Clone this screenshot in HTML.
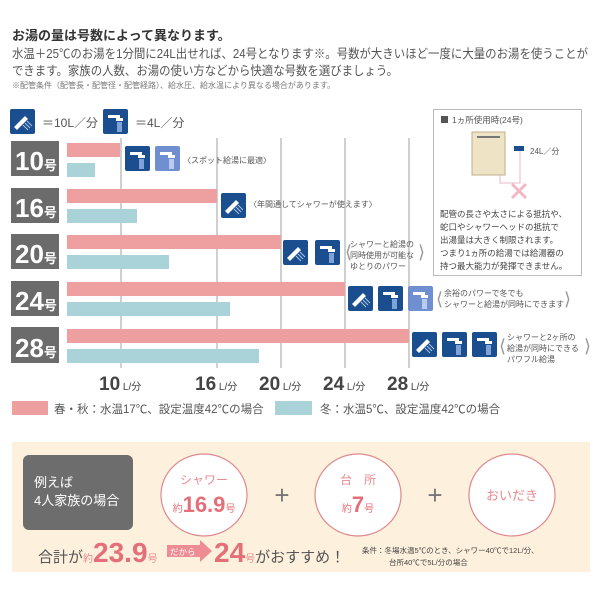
<!DOCTYPE html>
<html><head><meta charset="utf-8">
<style>
html,body{margin:0;padding:0;background:#fff;}
svg{display:block;font-family:"Liberation Sans","Noto Sans CJK JP",sans-serif;}
</style></head>
<body>
<svg width="600" height="600" viewBox="0 0 600 600" xmlns="http://www.w3.org/2000/svg">
<defs>
  <g id="sh">
    <rect width="25" height="25" rx="2" fill="#1b4e8f"/>
    <path d="M4 18 L15 7 L18 10 L7 21 Z" fill="#fff"/>
    <path d="M17 12 L22 17 M15 14 L20 19 M13 16 L18 21" stroke="#a9c4e6" stroke-width="1"/>
  </g>
  <g id="tp">
    <rect width="25" height="25" rx="2" fill="#1b4e8f"/>
    <path d="M5 6 H17 V9 H20 V12 H13 V9 H5 Z" fill="#fff"/>
    <rect x="14" y="13" width="5" height="10" fill="#7fa3d6"/>
  </g>
  <g id="tpl">
    <rect width="25" height="25" rx="2" fill="#6f8fd0"/>
    <path d="M5 6 H17 V9 H20 V12 H13 V9 H5 Z" fill="#fff"/>
    <rect x="14" y="13" width="5" height="10" fill="#b9cbee"/>
  </g>
</defs>

<text x="12" y="40" font-size="13" font-weight="bold" fill="#333">お湯の量は号数によって異なります。</text>
<text x="12" y="58" font-size="12.5" fill="#555" textLength="576" lengthAdjust="spacingAndGlyphs">水温＋25℃のお湯を1分間に24L出せれば、24号となります※。号数が大きいほど一度に大量のお湯を使うことが</text>
<text x="12" y="75" font-size="12.5" fill="#555" textLength="386" lengthAdjust="spacingAndGlyphs">できます。家族の人数、お湯の使い方などから快適な号数を選びましょう。</text>
<text x="12" y="88" font-size="8" fill="#777">※配管条件（配管長・配管径・配管経路）、給水圧、給水温により異なる場合があります。</text>

<use href="#sh" x="10" y="109"/>
<text x="42" y="127" font-size="12" fill="#555">＝10L／分</text>
<use href="#tp" x="103" y="109"/>
<text x="135" y="127" font-size="12" fill="#555">＝4L／分</text>

<g stroke="#888" stroke-width="0.8">
  <line x1="121" y1="138" x2="121" y2="368"/>
  <line x1="217" y1="138" x2="217" y2="368"/>
  <line x1="281" y1="138" x2="281" y2="368"/>
  <line x1="345" y1="138" x2="345" y2="368"/>
  <line x1="409" y1="138" x2="409" y2="368"/>
</g>

<g font-weight="bold" fill="#fff">
  <rect x="11" y="141" width="48" height="35" fill="#6b6b6b"/>
  <text x="15" y="170" font-size="26">10<tspan font-size="13">号</tspan></text>
  <rect x="11" y="188" width="48" height="35" fill="#6b6b6b"/>
  <text x="15" y="217" font-size="26">16<tspan font-size="13">号</tspan></text>
  <rect x="11" y="234" width="48" height="35" fill="#6b6b6b"/>
  <text x="15" y="263" font-size="26">20<tspan font-size="13">号</tspan></text>
  <rect x="11" y="281" width="48" height="35" fill="#6b6b6b"/>
  <text x="15" y="310" font-size="26">24<tspan font-size="13">号</tspan></text>
  <rect x="11" y="327" width="48" height="36" fill="#6b6b6b"/>
  <text x="15" y="357" font-size="26">28<tspan font-size="13">号</tspan></text>
</g>
<g fill="#ee9fa0">
  <rect x="67" y="143" width="53" height="14"/>
  <rect x="67" y="189" width="150" height="14"/>
  <rect x="67" y="235" width="214" height="14"/>
  <rect x="67" y="282" width="278" height="14"/>
  <rect x="67" y="329" width="342" height="14"/>
</g>
<g fill="#a9d3d9">
  <rect x="67" y="163" width="28" height="14"/>
  <rect x="67" y="209" width="70" height="14"/>
  <rect x="67" y="255" width="102" height="14"/>
  <rect x="67" y="302" width="163" height="14"/>
  <rect x="67" y="349" width="192" height="14"/>
</g>

<use href="#tp" x="125" y="146"/><use href="#tpl" x="155" y="146"/>
<text x="183" y="163" font-size="8" fill="#555">〈スポット給湯に最適〉</text>
<use href="#sh" x="221" y="193"/>
<text x="249" y="207" font-size="8" fill="#555">〈年間通してシャワーが使えます〉</text>
<use href="#sh" x="283" y="240"/><use href="#tp" x="315" y="240"/>
<g font-size="8" fill="#555">
  <text x="350" y="247">シャワーと給湯の</text>
  <text x="350" y="258">同時使用が可能な</text>
  <text x="350" y="269">ゆとりのパワー</text>
  <text x="345" y="258" font-size="18" fill="#999">⟨</text>
  <text x="418" y="258" font-size="18" fill="#999">⟩</text>
</g>
<use href="#sh" x="348" y="286"/><use href="#tp" x="378" y="286"/><use href="#tpl" x="408" y="286"/>
<g font-size="8" fill="#555">
  <text x="444" y="296">余裕のパワーで冬でも</text>
  <text x="444" y="307">シャワーと給湯が同時にできます</text>
  <text x="436" y="305" font-size="18" fill="#999">⟨</text>
  <text x="564" y="305" font-size="18" fill="#999">⟩</text>
</g>
<use href="#sh" x="412" y="332"/><use href="#tp" x="442" y="332"/><use href="#tp" x="472" y="332"/>
<g font-size="8" fill="#555">
  <text x="507" y="340">シャワーと2ヶ所の</text>
  <text x="507" y="351">給湯が同時にできる</text>
  <text x="507" y="362">パワフル給湯</text>
  <text x="499" y="352" font-size="18" fill="#999">⟨</text>
  <text x="584" y="352" font-size="18" fill="#999">⟩</text>
</g>

<g font-weight="bold" fill="#444" font-size="19">
  <text x="99" y="390">10<tspan font-size="10" font-weight="normal"> L/分</tspan></text>
  <text x="195" y="390">16<tspan font-size="10" font-weight="normal"> L/分</tspan></text>
  <text x="259" y="390">20<tspan font-size="10" font-weight="normal"> L/分</tspan></text>
  <text x="323" y="390">24<tspan font-size="10" font-weight="normal"> L/分</tspan></text>
  <text x="387" y="390">28<tspan font-size="10" font-weight="normal"> L/分</tspan></text>
</g>
<rect x="12" y="401" width="36" height="14" fill="#ee9fa0"/>
<text x="54" y="413" font-size="11.5" fill="#555">春・秋：水温17℃、設定温度42℃の場合</text>
<rect x="275" y="401" width="37" height="14" fill="#a9d3d9"/>
<text x="320" y="413" font-size="11.5" fill="#555">冬：水温5℃、設定温度42℃の場合</text>

<rect x="433.5" y="109.5" width="148" height="166" fill="#fff" stroke="#bbb"/>
<rect x="441" y="116" width="7" height="7" fill="#555"/>
<text x="452" y="123" font-size="8.5" fill="#555">1ヵ所使用時(24号)</text>
<rect x="472" y="132" width="33" height="43" fill="#efe3c6" stroke="#bfae88"/>
<rect x="477" y="136" width="23" height="2" fill="#777"/>
<path d="M500 175 V183 H520 V150" stroke="#e8b9c2" fill="none"/>
<path d="M514 146 H524 V151 H514 Z" fill="#1b4e8f"/>
<text x="530" y="154" font-size="8" fill="#555">24L／分</text>
<path d="M512 184 L526 198 M526 184 L512 198" stroke="#f2b8c6" stroke-width="3"/>
<g font-size="8.5" fill="#444">
  <text x="440" y="217">配管の長さや太さによる抵抗や、</text>
  <text x="440" y="230">蛇口やシャワーヘッドの抵抗で</text>
  <text x="440" y="243">出湯量は大きく制限されます。</text>
  <text x="440" y="256">つまり1ヵ所の給湯では給湯器の</text>
  <text x="440" y="269">持つ最大能力が発揮できません。</text>
</g>

<rect x="12" y="442" width="578" height="130" fill="#fdf0dc"/>
<rect x="23" y="455" width="110" height="75" rx="6" fill="#6d6d6d"/>
<text x="34" y="487" font-size="13" fill="#fff">例えば</text>
<text x="34" y="505" font-size="13" fill="#fff">4人家族の場合</text>
<g fill="#fff" stroke="#e0898f" stroke-width="1.2">
  <ellipse cx="204" cy="495" rx="43" ry="41"/>
  <ellipse cx="358" cy="495" rx="43" ry="41"/>
  <ellipse cx="512" cy="495" rx="43" ry="41"/>
</g>
<text x="204" y="484" font-size="12" fill="#e98a8f" text-anchor="middle">シャワー</text>
<text x="204" y="512" font-size="22" font-weight="bold" fill="#e56f78" text-anchor="middle"><tspan font-size="10" font-weight="normal">約</tspan>16.9<tspan font-size="10" font-weight="normal">号</tspan></text>
<text x="358" y="484" font-size="12" fill="#e98a8f" text-anchor="middle">台　所</text>
<text x="358" y="512" font-size="22" font-weight="bold" fill="#e56f78" text-anchor="middle"><tspan font-size="10" font-weight="normal">約</tspan>7<tspan font-size="10" font-weight="normal">号</tspan></text>
<text x="512" y="500" font-size="13" fill="#e98a8f" text-anchor="middle">おいだき</text>
<text x="282" y="504" font-size="26" fill="#777" text-anchor="middle">+</text>
<text x="435" y="504" font-size="26" fill="#777" text-anchor="middle">+</text>

<text x="38" y="562" font-size="15" fill="#555">合計が<tspan font-size="10" fill="#e98a8f">約</tspan><tspan font-size="28" font-weight="bold" fill="#e56f78">23.9</tspan><tspan font-size="10" fill="#e98a8f">号</tspan></text>
<path d="M167 545 H200 V540 L212 551 L200 562 V557 H167 Z" fill="#ee8c93"/>
<text x="170" y="555" font-size="8.5" fill="#fff">だから</text>
<text x="214" y="562" font-size="28" font-weight="bold" fill="#e56f78">24<tspan font-size="10" font-weight="normal" fill="#e98a8f">号</tspan><tspan font-size="15" font-weight="normal" fill="#555">がおすすめ！</tspan></text>
<text x="362" y="553" font-size="7.5" fill="#444">条件：冬場水温5℃のとき、シャワー40℃で12L/分、</text>
<text x="389" y="565" font-size="7.5" fill="#444">台所40℃で5L/分の場合</text>
</svg>
</body></html>
